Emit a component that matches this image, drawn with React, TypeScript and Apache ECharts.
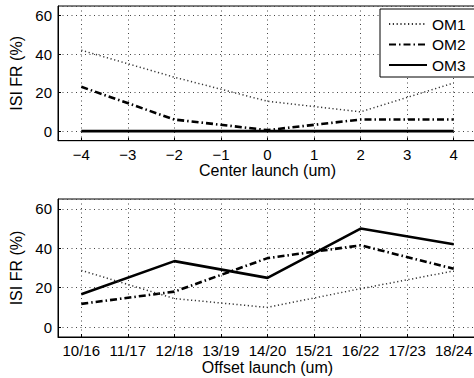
import React, { useEffect, useRef } from "react";
import * as echarts from "echarts";

const topX = [-4, -2, 0, 2, 4];
const topOM1 = [42, 28, 15.5, 10, 25];
const topOM2 = [23, 6, 0.5, 6, 6];
const topOM3 = [0, 0, 0, 0, 0];

const offsetCategories = ["10/16", "11/17", "12/18", "13/19", "14/20", "15/21", "16/22", "17/23", "18/24"];
const bottomIdx = [0, 2, 4, 6, 8];
const bottomOM1 = [28.8, 14.5, 10, 19.5, 28.5];
const bottomOM2 = [11.8, 18, 35, 41.5, 29.6];
const bottomOM3 = [16.7, 33.5, 25, 50, 42];

const yTicksMin = -5;
const yTicksMax = 65;
const seriesNames = ["OM1", "OM2", "OM3"];

const FONT = "Liberation Sans, Arial, sans-serif";

export default function App() {
  const ref = useRef<HTMLDivElement>(null);
  useEffect(() => {
    if (!ref.current) return;
    const chart = echarts.init(ref.current, undefined, { renderer: "svg" });
    const styles: any[] = [
      { color: "#333", width: 1.5, type: [1.2, 2.6] },
      { color: "#000", width: 2.6, type: [7, 3, 1.5, 3] },
      { color: "#000", width: 2.6, type: "solid" },
    ];
    const zip = (xs: number[], ys: number[]) => xs.map((x, i) => [x, ys[i]]);
    const topData = [topOM1, topOM2, topOM3];
    const botData = [bottomOM1, bottomOM2, bottomOM3];
    const series: any[] = [];
    seriesNames.forEach((n, i) => {
      series.push({
        name: n, type: "line", xAxisIndex: 0, yAxisIndex: 0,
        data: zip(topX, topData[i]), symbol: "none", lineStyle: styles[i],
        itemStyle: { color: "#000" }, z: 3 - i,
      });
    });
    seriesNames.forEach((n, i) => {
      series.push({
        name: n, type: "line", xAxisIndex: 1, yAxisIndex: 1,
        data: zip(bottomIdx, botData[i]), symbol: "none", lineStyle: styles[i],
        itemStyle: { color: "#000" }, z: 3 - i,
      });
    });
    const splitLine = { show: true, lineStyle: { color: "#444", width: 1, type: [1, 3.5] } };
    const axisLabel = { color: "#000", fontSize: 15, fontFamily: FONT };
    const nameStyle = { color: "#000", fontSize: 16, fontFamily: FONT };
    const yAxis = (gi: number) => ({
      type: "value", gridIndex: gi, min: yTicksMin, max: yTicksMax, splitNumber: 4,
      axisLine: { show: true, onZero: false, lineStyle: { color: "#000", width: 1 } },
      axisTick: { show: true, inside: true, length: 3, lineStyle: { color: "#000" } },
      axisLabel: { ...axisLabel, margin: 6, showMinLabel: false, showMaxLabel: false },
      splitLine,
      name: "ISI FR (%)", nameLocation: "middle", nameGap: 28, nameTextStyle: nameStyle,
    });
    chart.setOption({
      animation: false,
      backgroundColor: "#fff",
      grid: [
        { left: 58, top: 6, right: 3, height: 134.7, show: true, borderColor: "#000", borderWidth: 1 },
        { left: 58, top: 199, right: 3, height: 138, show: true, borderColor: "#000", borderWidth: 1 },
      ],
      legend: {
        data: seriesNames, orient: "vertical", left: 380, top: 9,
        padding: [7, 10, 4, 8], itemWidth: 38, itemHeight: 14, itemGap: 4.5, itemTextGap: 3,
        backgroundColor: "#fff", borderColor: "#000", borderWidth: 1, borderRadius: 0,
        itemStyle: { opacity: 0 },
        textStyle: { color: "#000", fontSize: 15.5, fontFamily: FONT },
      },
      xAxis: [
        {
          type: "value", gridIndex: 0, min: -4.5, max: 4.5, splitNumber: 9,
          axisLine: { show: true, onZero: false, lineStyle: { color: "#000" } },
          axisTick: { show: true, inside: true, length: 3, lineStyle: { color: "#000" } },
          axisLabel: {
            ...axisLabel, margin: 6, showMinLabel: false, showMaxLabel: false,
            formatter: (v: number) => (v < 0 ? "\u2212" + Math.abs(v) : String(v)),
          },
          splitLine,
          name: "Center launch (um)", nameLocation: "middle", nameGap: 21.5, nameTextStyle: nameStyle,
        },
        {
          type: "value", gridIndex: 1, min: -0.5, max: 8.5, splitNumber: 9,
          axisLine: { show: true, onZero: false, lineStyle: { color: "#000" } },
          axisTick: { show: true, inside: true, length: 3, lineStyle: { color: "#000" } },
          axisLabel: {
            ...axisLabel, margin: 6, showMinLabel: false, showMaxLabel: false,
            formatter: (v: number) => offsetCategories[Math.round(v)] ?? "",
          },
          splitLine,
          name: "Offset launch (um)", nameLocation: "middle", nameGap: 22.5, nameTextStyle: nameStyle,
        },
      ],
      yAxis: [yAxis(0), yAxis(1)],
      series,
    });
    return () => chart.dispose();
  }, []);
  return (
    <div style={{ position: "absolute", left: 0, top: 0, width: 474, height: 378, overflow: "hidden", background: "#fff" }}>
      <div ref={ref} style={{ width: 480, height: 378 }} />
    </div>
  );
}
